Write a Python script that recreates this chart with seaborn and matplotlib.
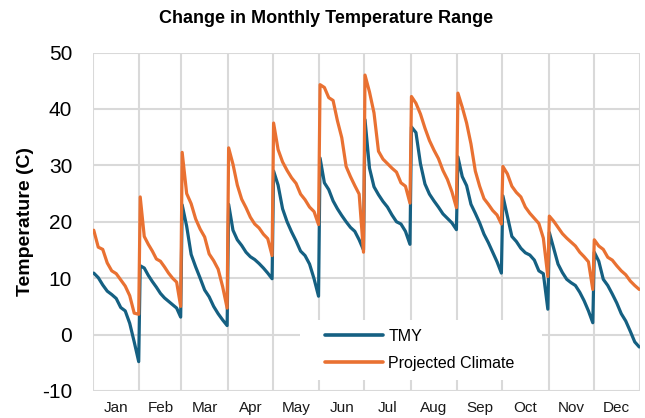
import numpy as np
import pandas as pd
import matplotlib
matplotlib.use("Agg")
import matplotlib.pyplot as plt
from matplotlib.patches import Rectangle
import seaborn as sns

months = ["Jan", "Feb", "Mar", "Apr", "May", "Jun", "Jul", "Aug", "Sep", "Oct", "Nov", "Dec"]
days_in_month = [31, 28, 31, 30, 31, 30, 31, 31, 30, 31, 30, 31]

# Daily temperature range per month, sorted high -> low (sampled evenly across each month)
tmy = {
    "Jan": [10.9, 10.1, 8.8, 7.7, 7.1, 6.4, 4.8, 4.2, 2.0, -1.3, -4.8],
    "Feb": [12.2, 11.8, 10.5, 9.4, 8.4, 7.3, 6.5, 5.9, 5.3, 4.7, 3.1],
    "Mar": [23.0, 19.2, 14.2, 12.0, 10.0, 7.9, 6.7, 5.0, 3.7, 2.6, 1.6],
    "Apr": [23.1, 18.5, 16.8, 15.8, 14.6, 13.8, 13.3, 12.6, 11.8, 10.9, 9.9],
    "May": [29.0, 26.5, 22.3, 20.0, 18.2, 16.6, 14.8, 14.0, 12.5, 9.9, 6.8],
    "Jun": [31.3, 26.9, 25.7, 23.7, 22.3, 21.1, 20.0, 19.0, 18.3, 16.8, 15.0],
    "Jul": [38.1, 29.5, 26.2, 24.8, 23.6, 22.6, 21.2, 20.0, 19.6, 18.3, 16.0],
    "Aug": [36.8, 35.8, 30.3, 26.7, 24.9, 23.7, 22.6, 21.4, 20.6, 19.8, 18.6],
    "Sep": [31.5, 28.0, 26.4, 23.1, 21.5, 19.8, 17.8, 16.3, 14.6, 12.9, 10.9],
    "Oct": [24.6, 21.0, 17.4, 16.5, 15.3, 14.5, 14.1, 13.2, 11.3, 10.8, 4.5],
    "Nov": [18.1, 15.3, 12.5, 11.0, 9.8, 9.2, 8.7, 7.5, 6.0, 4.2, 2.1],
    "Dec": [14.6, 13.0, 9.8, 8.7, 7.2, 5.6, 3.7, 2.4, 0.6, -1.3, -2.2],
}
projected = {
    "Jan": [18.5, 15.5, 15.1, 12.7, 11.3, 10.8, 9.7, 8.6, 6.9, 3.8, 3.6],
    "Feb": [24.4, 17.4, 16.0, 14.8, 13.4, 13.0, 12.0, 10.9, 10.0, 9.3, 5.0],
    "Mar": [32.3, 25.0, 23.2, 20.5, 18.7, 17.3, 14.3, 13.1, 11.6, 8.5, 4.7],
    "Apr": [33.1, 30.2, 26.5, 24.0, 22.5, 20.8, 19.6, 18.9, 17.8, 17.0, 14.0],
    "May": [37.5, 32.8, 30.6, 29.1, 27.8, 26.8, 24.9, 23.9, 22.6, 21.8, 19.5],
    "Jun": [44.3, 43.8, 42.0, 41.5, 37.9, 34.9, 29.8, 28.0, 26.4, 24.9, 14.6],
    "Jul": [46.0, 43.0, 39.3, 32.5, 31.1, 30.3, 29.5, 28.8, 26.9, 26.3, 23.3],
    "Aug": [42.2, 41.0, 39.1, 36.6, 34.4, 32.7, 31.2, 29.1, 27.5, 25.3, 22.5],
    "Sep": [42.8, 40.3, 37.5, 33.8, 29.0, 26.3, 24.1, 23.1, 22.0, 21.2, 19.6],
    "Oct": [29.8, 28.5, 26.3, 25.2, 24.4, 22.6, 21.5, 20.6, 19.7, 17.1, 10.3],
    "Nov": [21.0, 20.1, 19.0, 17.9, 17.1, 16.4, 15.7, 14.6, 13.8, 12.9, 8.0],
    "Dec": [16.8, 15.7, 15.1, 13.7, 13.2, 12.2, 11.3, 10.6, 9.5, 8.7, 8.0],
}
series_names = ["TMY", "Projected Climate"]
y_ticks = [-10, 0, 10, 20, 30, 40, 50]

# Build long-form table (x = day of year)
starts = np.concatenate([[0], np.cumsum(days_in_month)[:-1]])
rows = []
for name, src in zip(series_names, [tmy, projected]):
    for m, s, d in zip(months, starts, days_in_month):
        vals = src[m]
        xs = np.linspace(s + 0.5, s + d - 0.5, len(vals))
        for x, v in zip(xs, vals):
            rows.append({"day": x, "value": v, "series": name})
df = pd.DataFrame(rows)

sns.set_theme(style="white")
plt.rcParams["font.family"] = ["Liberation Sans", "DejaVu Sans"]
plt.rcParams["text.color"] = "#000000"

fig = plt.figure(figsize=(6.45, 4.18), dpi=100)
ax = fig.add_axes([93 / 645, 27 / 418, 547 / 645, 338.5 / 418])

palette = {"TMY": "#156082", "Projected Climate": "#E97132"}
sns.lineplot(data=df, x="day", y="value", hue="series", palette=palette,
             estimator=None, sort=False, linewidth=2.3, ax=ax, zorder=3)

boundaries = np.concatenate([[0], np.cumsum(days_in_month)])
centers = starts + np.array(days_in_month) / 2
ax.set_xlim(0, 365)
ax.set_ylim(-10, 50)
ax.set_yticks(y_ticks)
ax.set_yticklabels([str(t) for t in y_ticks], fontsize=15, color="#000000")
ax.set_xticks(centers)
ax.set_xticklabels(months, fontsize=11, color="#1a1a1a")
ax.set_xticks(boundaries, minor=True)
ax.tick_params(axis="both", which="both", length=0)
ax.tick_params(axis="y", pad=15)
ax.tick_params(axis="x", pad=7)
ax.set_axisbelow(True)
ax.grid(False)
ax.grid(True, axis="y", which="major", color="#d9d9d9", linewidth=1.5)
ax.grid(True, axis="x", which="minor", color="#d9d9d9", linewidth=1.5)
for sp in ax.spines.values():
    sp.set_visible(False)

ax.set_xlabel("")
ax.set_ylabel("Temperature (C)", fontsize=14, fontweight="bold", labelpad=6, color="#000000")
fig.suptitle("Change in Monthly Temperature Range", fontsize=13, fontweight="bold",
             x=0.505, y=0.975, color="#000000")

# legend with white background box
ax.add_patch(Rectangle(((300 - 93) / 547, (391 - 380) / 338.5), 242 / 547, 60 / 338.5,
                       transform=ax.transAxes, facecolor="white", edgecolor="none", zorder=1))
handles, labels = ax.get_legend_handles_labels()
leg = ax.legend(handles, labels, loc="center left", frameon=False, fontsize=11.5,
                handlelength=3.6, handletextpad=0.35, labelspacing=0.75,
                bbox_to_anchor=((311 - 93) / 547, (391 - 350) / 338.5))
for line in leg.get_lines():
    line.set_linewidth(2.6)

fig.savefig("out.png", dpi=100)
